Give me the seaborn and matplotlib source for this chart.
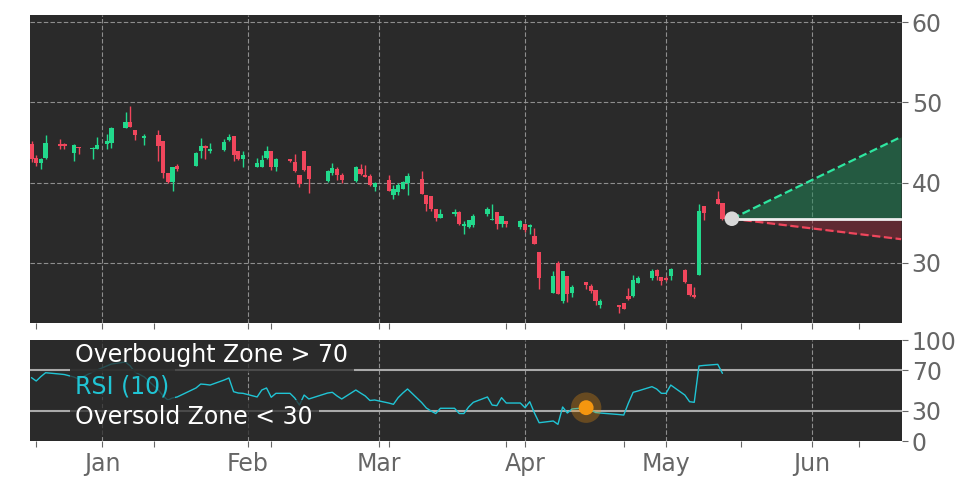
import numpy as np
import pandas as pd
import matplotlib
matplotlib.use("Agg")
import matplotlib.pyplot as plt
import matplotlib.dates as mdates
import seaborn as sns

# ---- data ----
dates = [
    "2024-12-17", "2024-12-18", "2024-12-19", "2024-12-20", "2024-12-23", "2024-12-24",
    "2024-12-26", "2024-12-27", "2024-12-30", "2024-12-31",
    "2025-01-02", "2025-01-03", "2025-01-06", "2025-01-07", "2025-01-08", "2025-01-10",
    "2025-01-13", "2025-01-14", "2025-01-15", "2025-01-16", "2025-01-17", "2025-01-21",
    "2025-01-22", "2025-01-23", "2025-01-24", "2025-01-27", "2025-01-28", "2025-01-29",
    "2025-01-30", "2025-01-31",
    "2025-02-03", "2025-02-04", "2025-02-05", "2025-02-06", "2025-02-07", "2025-02-10",
    "2025-02-11", "2025-02-12", "2025-02-13", "2025-02-14", "2025-02-18", "2025-02-19",
    "2025-02-20", "2025-02-21", "2025-02-24", "2025-02-25", "2025-02-26", "2025-02-27",
    "2025-02-28",
    "2025-03-03", "2025-03-04", "2025-03-05", "2025-03-06", "2025-03-07", "2025-03-10",
    "2025-03-11", "2025-03-12", "2025-03-13", "2025-03-14", "2025-03-17", "2025-03-18",
    "2025-03-19", "2025-03-20", "2025-03-21", "2025-03-24", "2025-03-25", "2025-03-26",
    "2025-03-27", "2025-03-28", "2025-03-31",
    "2025-04-01", "2025-04-02", "2025-04-03", "2025-04-04", "2025-04-07", "2025-04-08",
    "2025-04-09", "2025-04-10", "2025-04-11", "2025-04-14", "2025-04-15", "2025-04-16",
    "2025-04-17", "2025-04-21", "2025-04-22", "2025-04-23", "2025-04-24", "2025-04-25",
    "2025-04-28", "2025-04-29", "2025-04-30",
    "2025-05-01", "2025-05-02", "2025-05-05", "2025-05-06", "2025-05-07", "2025-05-08",
    "2025-05-09", "2025-05-12", "2025-05-13",
]
opens = [
    44.8, 43.1, 42.5, 43.1, 44.8, 44.8, 43.75, 44.5, 44.15, 44.25,
    44.8, 45.0, 46.8, 47.6, 46.5, 45.6, 46.0, 45.2, 41.2, 40.1, 42.1, 42.1, 44.0, 44.6, 44.0,
    44.1, 45.3, 45.8, 43.9, 42.9,
    42.0, 42.0, 43.1, 43.9, 42.0, 42.9, 42.6, 41.0, 43.9, 42.1, 40.2, 41.2, 41.7, 41.0, 40.25,
    41.7, 41.0, 40.8, 39.4,
    40.3, 38.4, 38.8, 39.25, 39.9, 40.5, 38.5, 38.3, 36.75, 35.6, 36.1, 36.3, 34.6, 34.5, 34.7,
    36.1, 35.3, 36.3, 34.9, 35.2, 34.5,
    34.9, 34.5, 33.3, 31.4, 26.2, 30.0, 25.2, 28.4, 26.2, 27.6, 27.1, 26.6, 24.7, 24.7, 25.0,
    25.85, 25.9, 27.5, 28.1, 29.05, 28.25,
    28.05, 28.4, 29.05, 27.4, 26.0, 28.5, 37.1, 37.9, 37.5,
]
highs = [
    45.2, 43.4, 43.1, 46.0, 45.5, 44.9, 44.8, 44.5, 44.5, 45.7,
    46.1, 46.9, 48.75, 49.5, 46.5, 46.1, 46.5, 45.2, 41.2, 42.0, 42.3, 43.8, 45.6, 44.7, 45.0,
    45.4, 46.1, 45.8, 43.9, 44.0,
    43.1, 43.5, 44.6, 43.9, 43.1, 42.9, 43.6, 41.0, 44.0, 42.1, 41.6, 42.5, 41.9, 41.2, 42.1,
    42.3, 42.2, 41.1, 40.1,
    41.0, 39.7, 40.0, 40.2, 41.2, 41.5, 38.5, 38.3, 36.75, 36.7, 36.7, 36.5, 35.2, 35.4, 36.1,
    37.0, 37.3, 36.3, 35.9, 35.2, 35.4,
    34.9, 34.9, 34.4, 31.4, 29.0, 30.2, 29.0, 28.4, 27.2, 27.6, 27.3, 26.6, 25.5, 24.8, 25.0,
    26.9, 28.5, 28.3, 29.2, 29.2, 28.25,
    28.4, 29.4, 29.25, 27.4, 27.0, 37.3, 37.1, 39.0, 37.5,
]
lows = [
    42.6, 42.1, 41.7, 42.9, 44.2, 44.2, 42.7, 43.6, 42.9, 44.2,
    44.2, 44.3, 46.8, 46.9, 45.3, 44.7, 42.7, 40.6, 40.0, 39.0, 41.5, 42.1, 43.1, 42.9, 43.7,
    43.9, 45.2, 42.7, 42.8, 42.0,
    41.9, 42.0, 43.0, 41.6, 41.4, 42.6, 41.3, 39.4, 41.4, 38.7, 40.1, 41.0, 40.3, 39.9, 40.1,
    41.0, 40.7, 39.6, 38.9,
    39.0, 38.0, 38.5, 39.2, 38.4, 38.6, 36.5, 36.5, 35.2, 35.6, 35.8, 34.7, 33.6, 34.4, 34.5,
    35.9, 35.3, 34.2, 34.5, 34.5, 34.2,
    33.8, 33.6, 32.4, 26.8, 26.2, 26.1, 25.0, 25.1, 25.8, 26.7, 26.3, 24.8, 24.4, 23.8, 24.2,
    25.4, 25.8, 27.5, 27.9, 27.9, 27.2,
    27.7, 27.9, 27.5, 25.9, 25.6, 28.5, 35.3, 37.3, 35.3,
]
closes = [
    43.0, 42.5, 43.0, 44.9, 44.6, 44.6, 44.7, 44.3, 44.3, 44.7,
    45.2, 46.75, 47.6, 46.9, 45.9, 45.8, 44.6, 41.2, 40.1, 42.0, 41.7, 43.75, 44.6, 44.3, 44.2,
    45.1, 45.7, 43.4, 42.9, 43.5,
    42.5, 42.8, 43.9, 42.0, 42.9, 42.7, 41.4, 39.8, 41.6, 40.4, 41.45, 41.8, 41.0, 40.3, 42.0,
    41.1, 40.75, 39.7, 40.0,
    39.0, 39.2, 39.7, 40.1, 40.8, 38.6, 37.3, 36.75, 35.6, 36.1, 36.4, 34.8, 34.8, 35.3, 35.9,
    36.7, 35.5, 34.9, 35.9, 34.8, 35.2,
    34.1, 34.7, 32.4, 28.1, 28.4, 26.1, 29.0, 26.1, 27.0, 27.2, 26.5, 25.2, 25.3, 24.5, 24.3,
    25.55, 27.8, 28.1, 29.0, 28.4, 27.7,
    27.85, 29.25, 27.6, 26.05, 25.7, 36.5, 36.25, 37.3, 35.5,
]
rsi = [
    62.7, 59.4, 63.8, 67.6, 66.3, 65.8, 63.4, 61.4, 68.3, 70.3,
    74.3, 76.2, 78.2, 74.3, 68.3, 63.4, 50.5, 44.6, 40.6, 42.6, 43.6, 52.5, 56.4, 56.0, 55.4,
    60.4, 62.4, 48.8, 47.5, 47.2,
    43.6, 50.5, 52.5, 43.3, 47.2, 47.2, 42.6, 35.6, 45.5, 41.6, 47.5, 48.2, 44.6, 41.6, 50.5,
    47.5, 44.6, 40.1, 40.6,
    37.6, 36.3, 42.9, 47.5, 51.5, 38.1, 32.7, 29.7, 27.2, 32.4, 32.4, 27.2, 27.2, 33.7, 38.3,
    43.6, 35.6, 35.0, 42.9, 37.6, 37.6,
    33.0, 38.9, 27.7, 18.1, 19.8, 16.5, 33.7, 27.7, 31.7, 33.0, 30.7, 28.2, 27.7, 26.2, 25.7,
    37.6, 48.2, 49.5, 53.8, 51.5, 47.2,
    47.2, 55.4, 45.5, 38.9, 38.3, 74.3, 74.8, 75.9, 67.0,
]

signal_date = "2025-04-14"          # RSI crossing marker
proj_start = "2025-05-15"
proj_end = "2025-06-20"
proj_high = 45.7
proj_low = 32.95
minor_days = ["2024-12-18", "2025-01-12", "2025-02-06", "2025-03-03",
              "2025-03-28", "2025-04-22", "2025-05-17", "2025-06-11"]

# ---- colours ----
UP = "#22d98c"
DOWN = "#f0465c"
BG = "#2a2a2a"
GRID = "#9a9a9a"
TXT = "#666666"
CYAN = "#20c4d4"
ORANGE = "#f5960f"

df = pd.DataFrame({"date": pd.to_datetime(dates), "open": opens, "high": highs,
                   "low": lows, "close": closes, "rsi": rsi})
df["x"] = mdates.date2num(df["date"])
df["up"] = df["close"] >= df["open"]

sns.set_style("dark")
plt.rcParams["font.family"] = ["DejaVu Sans"]

fig = plt.figure(figsize=(9.72, 4.86), dpi=100, facecolor="white")
ax = fig.add_axes([30 / 972, 1 - 323 / 486, 872 / 972, 308 / 486])
ax2 = fig.add_axes([30 / 972, 1 - 441 / 486, 872 / 972, 101 / 486], sharex=ax)

for a in (ax, ax2):
    a.set_facecolor(BG)
    for s in a.spines.values():
        s.set_visible(False)
    a.yaxis.tick_right()
    a.tick_params(axis="both", colors=TXT, labelsize=17, length=4, width=0.8,
                  direction="out", left=False, right=True, bottom=True)
    a.tick_params(axis="y", colors=TXT, labelcolor=TXT, pad=3)
    a.grid(False)

# ---- candles ----
colors = np.where(df["up"], UP, DOWN)
ax.vlines(df["x"], df["low"], df["high"], colors=colors, linewidth=1, zorder=3)
body = (df["close"] - df["open"]).to_numpy()
body = np.where(np.abs(body) < 0.15, 0.15, body)
ax.bar(df["x"], body, bottom=df["open"], width=0.9, color=colors, linewidth=0, zorder=4)

# ---- projection ----
last_close = df["close"].iloc[-1]
px = mdates.date2num(pd.to_datetime([proj_start, proj_end]))
ax.fill_between(px, [last_close, last_close], [last_close, proj_high],
                color="#1f8a58", alpha=0.5, linewidth=0, zorder=2)
ax.fill_between(px, [last_close, last_close], [last_close, proj_low],
                color="#b02a40", alpha=0.4, linewidth=0, zorder=2)
ax.plot(px, [last_close, proj_high], color="#2ee6a0", lw=1.6, ls="--", zorder=5)
ax.plot(px, [last_close, proj_low], color=DOWN, lw=1.6, ls="--", zorder=5)
ax.plot(px, [last_close, last_close], color="#eeeeee", lw=2, zorder=5)
sns.scatterplot(x=[px[0]], y=[last_close], ax=ax, s=110, color="#d8d8d8",
                edgecolor="none", zorder=6, legend=False)

ax.set_ylim(22.5, 60.9)
ax.set_yticks([30, 40, 50, 60])
ax.grid(True, axis="both", color=GRID, linestyle=(0, (4, 2)), linewidth=0.8, alpha=0.9)
ax.tick_params(axis="x", labelbottom=False)

# ---- RSI panel ----
sns.lineplot(x=df["x"], y=df["rsi"], ax=ax2, color=CYAN, linewidth=1, zorder=3)
for lvl in (70, 30):
    ax2.axhline(lvl, color="#aaaaaa", lw=1.5, zorder=2)
sig = df[df["date"] == pd.Timestamp(signal_date)]
ax2.scatter(sig["x"], sig["rsi"], s=480, color=ORANGE, alpha=0.3, edgecolor="none", zorder=4)
ax2.scatter(sig["x"], sig["rsi"], s=115, color=ORANGE, edgecolor="none", zorder=5)
ax2.set_ylim(0, 100)
ax2.set_yticks([0, 30, 70, 100])
ax2.grid(True, axis="x", color=GRID, linestyle=(0, (4, 2)), linewidth=0.8, alpha=0.9)
ax2.set_xlabel("")
ax2.set_ylabel("")

box = dict(facecolor=BG, edgecolor="none", alpha=0.75, pad=4)
labels = [(85, "Overbought Zone > 70", "white"),
          (54, "RSI (10)", CYAN),
          (23.5, "Oversold Zone < 30", "white")]
for yv, txt, col in labels:
    ax2.text(0.052, yv, txt, transform=ax2.get_yaxis_transform(), color=col,
             fontsize=17, va="center", bbox=box, zorder=6, clip_on=True)

# ---- x axis ----
jan1 = mdates.date2num(pd.Timestamp("2025-01-01"))
ax.set_xlim(jan1 - 15.32, jan1 + 170.2)
ax2.xaxis.set_major_locator(mdates.MonthLocator())
ax2.xaxis.set_major_formatter(mdates.DateFormatter("%b"))
ax2.set_xticks(mdates.date2num(pd.to_datetime(minor_days)), minor=True)
for a in (ax, ax2):
    a.tick_params(axis="x", which="minor", length=4, width=0.8, colors=TXT, bottom=True)
ax2.tick_params(axis="x", labelsize=17, labelcolor=TXT, pad=4)

fig.savefig("out.png", dpi=100, facecolor="white")
